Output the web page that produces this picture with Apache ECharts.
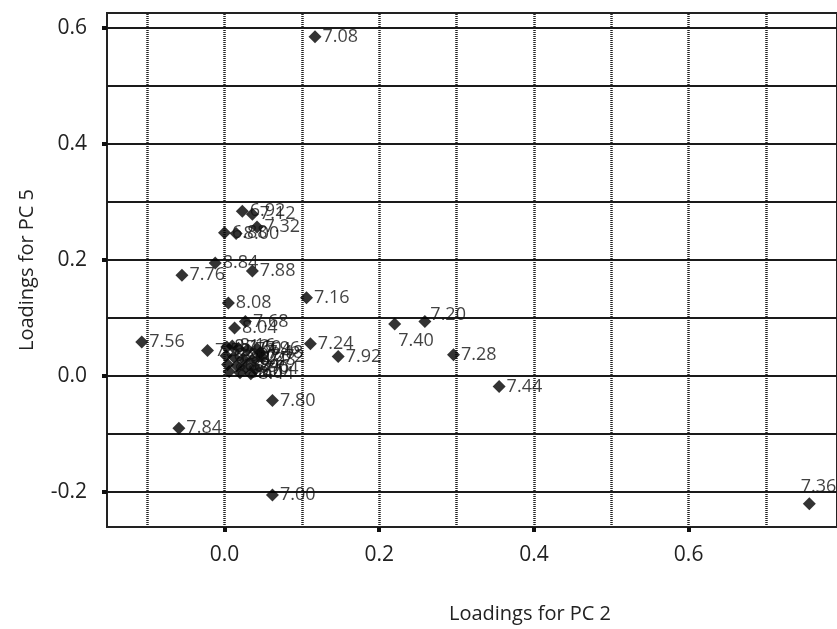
<!DOCTYPE html>
<html>
<head>
<meta charset="utf-8">
<script src="https://cdn.jsdelivr.net/npm/echarts@6/dist/echarts.min.js"></script>
<style>
  html, body { margin: 0; padding: 0; background: #fff; }
  #main { width: 837px; height: 629px; }
</style>
</head>
<body>
<div id="main"></div>
<script>
// 化学位移标签 + PC2 / PC5 载荷
const shifts = ['7.08', '6.92', '7.12', '7.32', '6.88', '8.00', '8.84', '7.76', '7.88', '8.08',
  '7.16', '7.68', '8.04', '7.56', '7.52', '7.24', '7.92', '7.40', '7.20', '7.28', '7.44',
  '7.80', '7.84', '7.00', '7.36',
  '8.12', '8.16', '7.60', '7.64', '7.96', '7.48', '7.72', '6.80', '8.20', '8.24', '8.28',
  '8.32', '6.84', '6.96', '7.04', '8.36', '8.40', '8.44'];
const pc2 = [0.117, 0.023, 0.036, 0.042, 0.000, 0.015, -0.012, -0.055, 0.036, 0.005,
  0.106, 0.027, 0.013, -0.107, -0.022, 0.111, 0.147, 0.220, 0.259, 0.296, 0.355,
  0.062, -0.059, 0.062, 0.756,
  0.003, 0.010, 0.018, 0.030, 0.042, 0.046, 0.048, 0.002, 0.012, 0.024, 0.036,
  0.004, 0.016, 0.028, 0.040, 0.006, 0.020, 0.034];
const pc5 = [0.585, 0.284, 0.279, 0.257, 0.247, 0.246, 0.195, 0.174, 0.181, 0.126,
  0.135, 0.094, 0.083, 0.059, 0.044, 0.056, 0.034, 0.090, 0.094, 0.037, -0.018,
  -0.042, -0.090, -0.205, -0.220,
  0.050, 0.052, 0.048, 0.046, 0.047, 0.040, 0.034, 0.035, 0.033, 0.030, 0.028,
  0.020, 0.018, 0.016, 0.012, 0.008, 0.006, 0.004];
const xTicks = [0.0, 0.2, 0.4, 0.6];
const yTicks = [-0.2, 0.0, 0.2, 0.4, 0.6];
const xGrid = [-0.1, 0.0, 0.1, 0.2, 0.3, 0.4, 0.5, 0.6, 0.7];
const yGrid = [-0.2, -0.1, 0.0, 0.1, 0.2, 0.3, 0.4, 0.5, 0.6];

const FONT = '"Open Sans", "Noto Sans", sans-serif';

// 个别标签的位置（相对符号左上角）
const labelFix = {
  '7.40': { position: [10, 14] },
  '7.20': { position: [12, -9] },
  '7.36': { position: [-2, -19] }
};

const points = shifts.map(function (s, i) {
  const item = { value: [pc2[i], pc5[i]], name: s };
  if (labelFix[s]) item.label = labelFix[s];
  return item;
});

const myChart = echarts.init(document.getElementById('main'));

option = {
  backgroundColor: '#fff',
  animation: false,
  grid: {
    left: 107,
    top: 13,
    right: -3,
    bottom: 100,
    show: true,
    borderColor: '#222',
    borderWidth: 2
  },
  xAxis: {
    type: 'value',
    min: -0.1519,
    max: 0.7918,
    name: 'Loadings for PC 2',
    nameLocation: 'middle',
    nameGap: 77,
    nameTextStyle: { fontSize: 20, color: '#222', fontFamily: FONT, padding: [0, 0, 0, 116] },
    axisLine: { show: true, onZero: false, lineStyle: { color: '#222', width: 2 } },
    axisTick: { show: true, customValues: xTicks, length: 5, lineStyle: { color: '#111', width: 4 } },
    axisLabel: {
      customValues: xTicks, margin: 18, fontSize: 21, color: '#222', fontFamily: FONT,
      formatter: function (v) { return v.toFixed(1); }
    },
    splitLine: { show: false }
  },
  yAxis: {
    type: 'value',
    min: -0.260,
    max: 0.6258,
    name: 'Loadings for PC 5',
    nameLocation: 'middle',
    nameGap: 70,
    nameTextStyle: { fontSize: 20, color: '#222', fontFamily: FONT },
    axisLine: { show: true, onZero: false, lineStyle: { color: '#222', width: 2 } },
    axisTick: { show: true, customValues: yTicks, length: 5, lineStyle: { color: '#111', width: 4 } },
    axisLabel: {
      customValues: yTicks, margin: 20, fontSize: 21, color: '#222', fontFamily: FONT,
      formatter: function (v) { return v.toFixed(1); }
    },
    splitLine: { show: false }
  },
  series: [{
    type: 'scatter',
    symbol: 'diamond',
    symbolSize: 13,
    itemStyle: { color: '#000' },
    label: {
      show: true,
      position: 'right',
      distance: 1,
      formatter: '{b}',
      fontSize: 18,
      color: '#111',
      fontFamily: FONT
    },
    markLine: {
      silent: true,
      symbol: 'none',
      label: { show: false },
      animation: false,
      data: xGrid.map(function (v) {
        return { xAxis: v, lineStyle: { color: '#222', width: 2.5, type: [1, 1] } };
      }).concat(yGrid.map(function (v) {
        return { yAxis: v, lineStyle: { color: '#1a1a1a', width: 2, type: 'solid' } };
      }))
    },
    data: points,
    z: 5
  }]
};

myChart.setOption(option);
</script>
</body>
</html>
